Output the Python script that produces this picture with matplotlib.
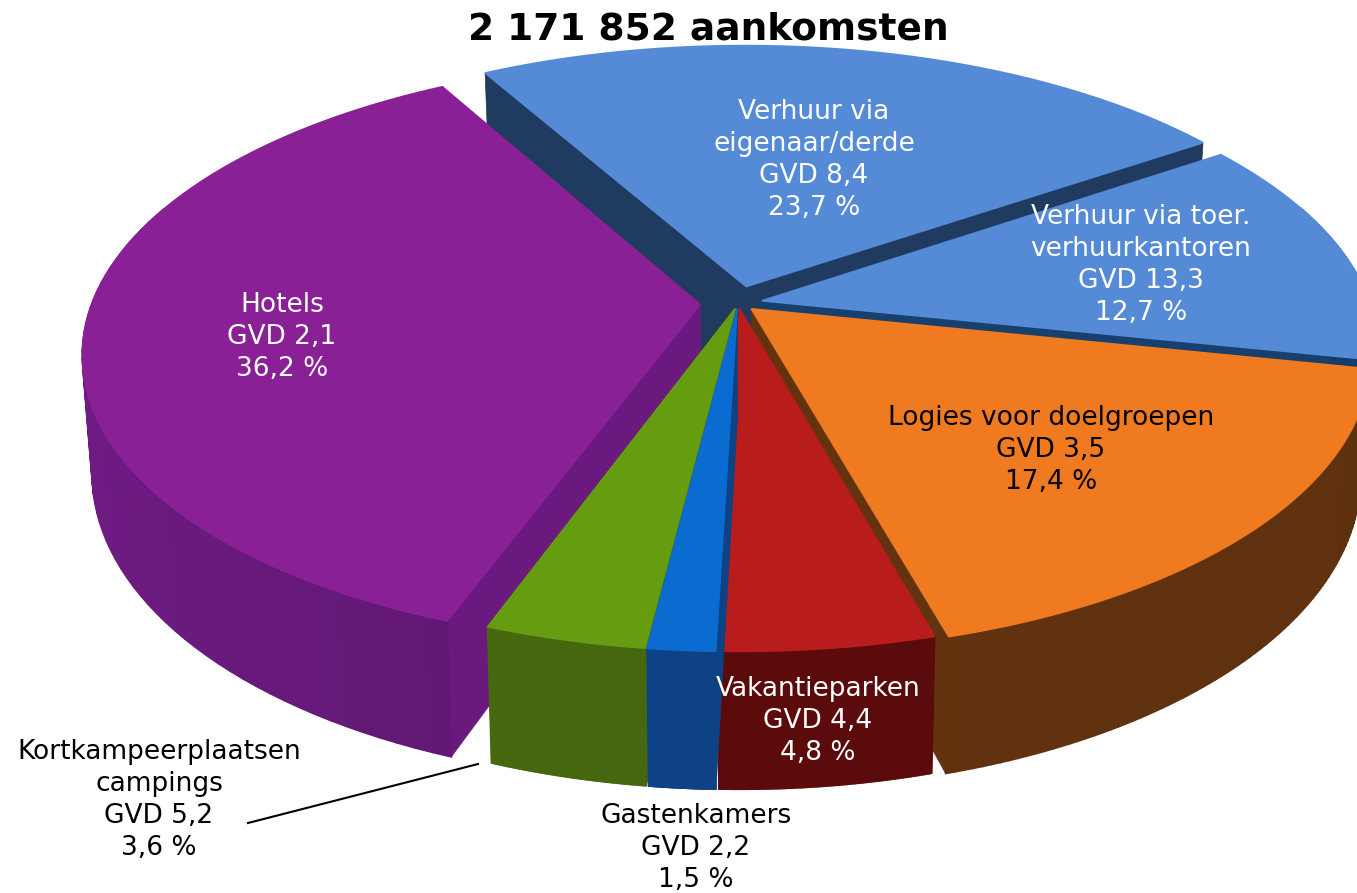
import numpy as np
import matplotlib
matplotlib.use('Agg')
import matplotlib.pyplot as plt
from matplotlib.colors import to_rgb

# data, clockwise from the top slice
names = ['Verhuur via\neigenaar/derde', 'Verhuur via toer.\nverhuurkantoren', 'Logies voor doelgroepen',
         'Vakantieparken', 'Gastenkamers', 'Kortkampeerplaatsen\ncampings', 'Hotels']
gvd = ['8,4', '13,3', '3,5', '4,4', '2,2', '5,2', '2,1']
shares = [23.7, 12.7, 17.4, 4.8, 1.5, 3.6, 36.2]
title = '2 171 852 aankomsten'

explode = [0.06, 0.04, 0.03, 0.02, 0.02, 0.02, 0.0625]
top_colors = ['#558ad6', '#558ad6', '#f07a1f', '#b81c1c', '#0a6bd0', '#669c10', '#8a2096']
wall_colors = ['#1f3b5f', '#17406f', '#63330f', '#5c0b0b', '#0d4285', '#46660f', '#6a1a7e']
label_colors = ['white', 'white', 'black', 'white', 'black', 'black', 'white']
label_pos = [(814, 160), (1141, 265), (1051, 450), (818, 721), (696, 848), (159, 800), (282, 337)]

# shape of the 3d view, in pixels
cx, cy = 738, 303
rx, ry = 608, 285
persp = 0.1625
h0 = 115
start = -29.5


def project(X, Y, z):
    s = 1 / (1 + persp * Y)
    return cx + rx * s * X * (1 - 0.015 * z), cy - ry * s * Y + z * h0 * s


def shade(col, f):
    return tuple(min(1, c * f) for c in to_rgb(col))


fig = plt.figure(figsize=(13.57, 8.93), dpi=100)
ax = fig.add_axes([0, 0, 1, 1])
ax.set_xlim(0, 1357)
ax.set_ylim(893, 0)
ax.axis('off')

total = sum(shares)
angles = start + np.cumsum([0] + shares) / total * 360


def draw_slice(i):
    a0, a1 = np.radians(angles[i]), np.radians(angles[i + 1])
    mid = (a0 + a1) / 2
    ox, oy = explode[i] * np.sin(mid), explode[i] * np.cos(mid)
    t = np.linspace(a0, a1, 80)
    X = ox + np.sin(t)
    Y = oy + np.cos(t)
    # two cut faces
    for a in (a0, a1):
        px = [ox, ox + np.sin(a), ox + np.sin(a), ox]
        py = [oy, oy + np.cos(a), oy + np.cos(a), oy]
        pz = [0, 0, 1, 1]
        sx, sy = project(np.array(px), np.array(py), np.array(pz))
        ax.fill(sx, sy, color=wall_colors[i], lw=0.5, zorder=1)
    # outer rim in thin strips, only the front half shows
    for j in range(len(t) - 1):
        if Y[j] > 0.35 and Y[j + 1] > 0.35:
            continue
        xa = np.array([X[j], X[j + 1], X[j + 1], X[j]])
        ya = np.array([Y[j], Y[j + 1], Y[j + 1], Y[j]])
        sx, sy = project(xa, ya, np.array([0, 0, 1, 1]))
        f = 1.05 - 0.1 * (np.sin(t[j]) + 1) / 2
        if i == 6:
            f = 0.85 + 0.2 * (-np.sin(t[j]))
        ax.fill(sx, sy, color=shade(wall_colors[i], f), lw=1.2, zorder=1)
    # top, same edge width as the rim so no strip pokes out
    sx, sy = project(np.r_[ox, X], np.r_[oy, Y], 0)
    ax.fill(sx, sy, color=top_colors[i], lw=1.2, zorder=1)


# back slices first
for i in [0, 1, 6, 2, 5, 3, 4]:
    draw_slice(i)

for i in range(len(names)):
    txt = names[i] + '\nGVD ' + gvd[i] + '\n' + str(shares[i]).replace('.', ',') + ' %'
    ax.text(label_pos[i][0], label_pos[i][1], txt, color=label_colors[i], fontsize=19,
            ha='center', va='center', linespacing=1.3, family='DejaVu Sans', zorder=5)

ax.plot([248, 478], [823, 764], color='black', lw=1.5, zorder=4)
ax.text(708, 29, title, fontsize=27, fontweight='bold', ha='center', va='center',
        family='DejaVu Sans', zorder=5)

fig.savefig('out.png', dpi=100)
